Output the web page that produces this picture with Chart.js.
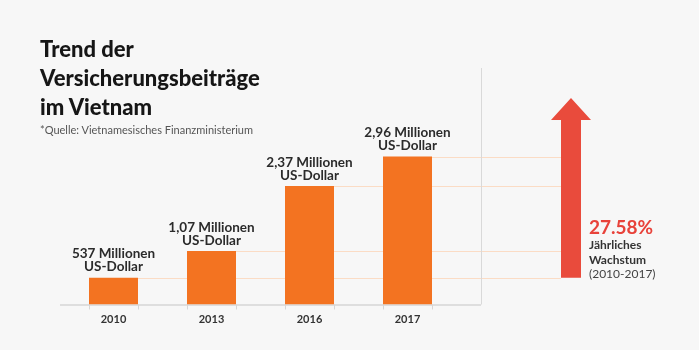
<!DOCTYPE html>
<html>
<head>
<meta charset="utf-8">
<script src="https://cdn.jsdelivr.net/npm/chart.js@4.4.1/dist/chart.umd.min.js"></script>
<style>
  html, body { margin: 0; padding: 0; background: #f7f7f7; }
  #wrap { position: relative; width: 699px; height: 350px; overflow: hidden; }
  canvas { position: absolute; left: 0; top: 0; }
  .titel { position: absolute; left: 40px; top: 34px; font: 900 22px Lato, sans-serif; line-height: 29px; color: #161616; }
  .quelle { position: absolute; left: 40px; top: 123px; font: 11px Lato, sans-serif; color: #555; }
  .wachstum { position: absolute; left: 589px; top: 216px; font-family: Lato, sans-serif; color: #333; }
  .wachstum .pct { font-weight: bold; font-size: 19px; line-height: 22px; color: #e8423a; }
  .wachstum .txt { font-weight: bold; font-size: 12px; line-height: 14.5px; }
  .wachstum .jahr { font-size: 12px; line-height: 14px; color: #444; }
</style>
</head>
<body>
<div id="wrap">
  <canvas id="grafico-beitraege" width="699" height="350"></canvas>
  <div class="titel">Trend der<br>Versicherungsbeiträge<br>im Vietnam</div>
  <div class="quelle">*Quelle: Vietnamesisches Finanzministerium</div>
  <div class="wachstum">
    <div class="pct">27.58%</div>
    <div class="txt">Jährliches<br>Wachstum</div>
    <div class="jahr">(2010-2017)</div>
  </div>
</div>
<script>
// Versicherungsbeiträge in Millionen US-Dollar
var jahre = ['2010', '2013', '2016', '2017'];
var beitraege = [537, 1070, 2370, 2960];
var beschriftung = ['537 Millionen', '1,07 Millionen', '2,37 Millionen', '2,96 Millionen'];
var einheit = 'US-Dollar';

var orange = '#f37321';
var hellorange = '#fbdcc5';
var rot = '#e94b3c';

// Hilfslinien, Achse, Pfeil und Beschriftungen
var dekoPlugin = {
    id: 'deko',
    beforeDatasetsDraw: function(chart) {
        var ctx = chart.ctx;
        var y = chart.scales.y;
        var bars = chart.getDatasetMeta(0).data;
        var unten = chart.chartArea.bottom;
        var pfeilX = 561, pfeilB = 20;

        ctx.save();
        // hellorange Linien von den Balken zum Pfeil
        ctx.strokeStyle = hellorange;
        ctx.lineWidth = 1.2;
        bars.forEach(function(b) {
            ctx.beginPath();
            ctx.moveTo(b.x + b.width / 2, Math.round(b.y) + 0.5);
            ctx.lineTo(pfeilX, Math.round(b.y) + 0.5);
            ctx.stroke();
        });

        // Trennlinie rechts
        ctx.strokeStyle = '#d9d9d9';
        ctx.lineWidth = 1;
        ctx.beginPath();
        ctx.moveTo(481.5, 68);
        ctx.lineTo(481.5, unten);
        ctx.stroke();

        // x-Achse mit Strichen an den Balkenkanten
        ctx.strokeStyle = '#d6d6d6';
        ctx.lineWidth = 1.5;
        ctx.beginPath();
        ctx.moveTo(60, unten + 0.5);
        ctx.lineTo(481, unten + 0.5);
        ctx.stroke();
        ctx.lineWidth = 1;
        bars.forEach(function(b) {
            [b.x - b.width / 2, b.x + b.width / 2].forEach(function(kx) {
                ctx.beginPath();
                ctx.moveTo(Math.round(kx) + 0.5, unten);
                ctx.lineTo(Math.round(kx) + 0.5, unten + 5);
                ctx.stroke();
            });
        });

        // Pfeil vom Wert 2010 nach oben
        var fuss = y.getPixelForValue(beitraege[0]);
        ctx.fillStyle = rot;
        ctx.beginPath();
        ctx.moveTo(pfeilX, fuss);
        ctx.lineTo(pfeilX, 120);
        ctx.lineTo(pfeilX - 10, 120);
        ctx.lineTo(pfeilX + pfeilB / 2, 98);
        ctx.lineTo(pfeilX + pfeilB + 10, 120);
        ctx.lineTo(pfeilX + pfeilB, 120);
        ctx.lineTo(pfeilX + pfeilB, fuss);
        ctx.closePath();
        ctx.fill();
        ctx.restore();
    },
    afterDatasetsDraw: function(chart) {
        var ctx = chart.ctx;
        var bars = chart.getDatasetMeta(0).data;
        ctx.save();
        ctx.fillStyle = '#2b2b2b';
        ctx.font = 'bold 13.5px Lato, sans-serif';
        ctx.textAlign = 'center';
        ctx.textBaseline = 'alphabetic';
        bars.forEach(function(b, i) {
            ctx.fillText(beschriftung[i], b.x, b.y - 19.5);
            ctx.fillText(einheit, b.x, b.y - 6.5);
        });
        ctx.restore();
    }
};

var beitraege_ctx = document.getElementById('grafico-beitraege').getContext('2d');
var beitraege_config = {
    type: 'bar',
    data: {
        labels: jahre,
        datasets: [{
            data: beitraege,
            backgroundColor: orange,
            barPercentage: 0.5,
            categoryPercentage: 1.0
        }]
    },
    options: {
        responsive: false,
        animation: false,
        layout: {
            padding: { left: 64.5, right: 242.5, top: 104.5, bottom: 16.3 }
        },
        plugins: {
            legend: { display: false },
            tooltip: { enabled: false }
        },
        scales: {
            x: {
                grid: { display: false, drawTicks: false },
                border: { display: false },
                ticks: {
                    color: '#333',
                    font: { family: 'Lato, sans-serif', size: 11, weight: 'bold' },
                    padding: 8
                }
            },
            y: {
                display: false,
                min: 0,
                max: 4000
            }
        }
    },
    plugins: [dekoPlugin]
};
var grafico_beitraege = new Chart(beitraege_ctx, beitraege_config);
</script>
</body>
</html>
